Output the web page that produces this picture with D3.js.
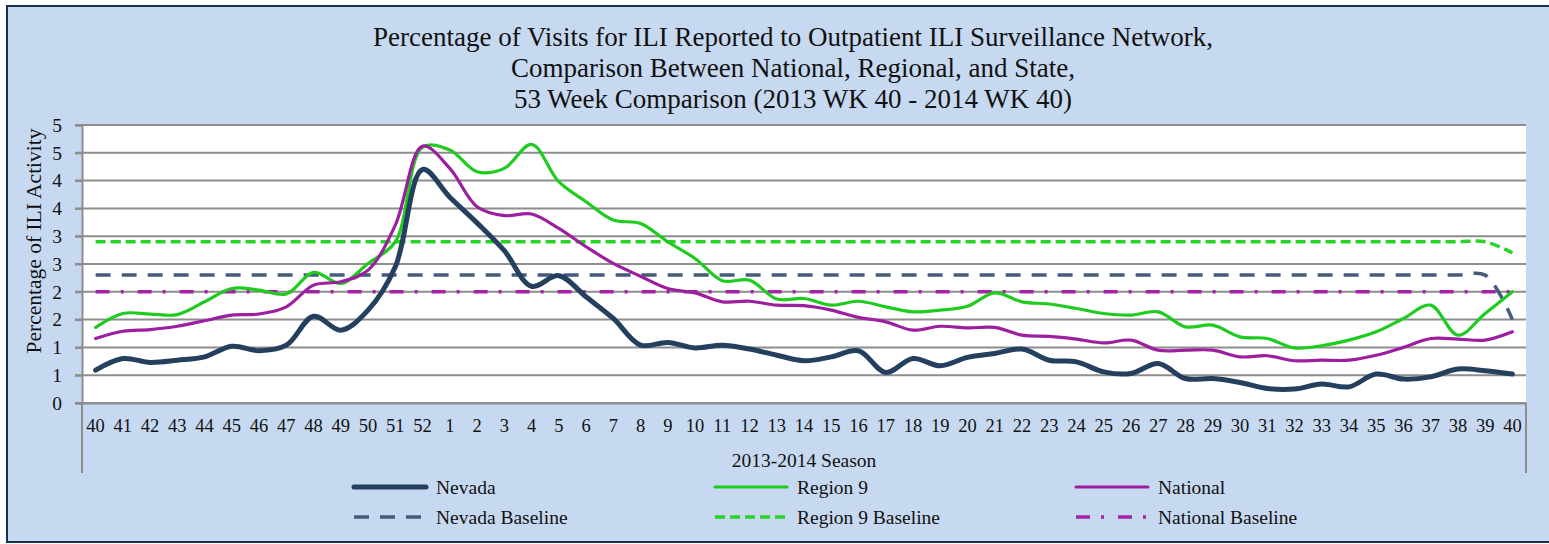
<!DOCTYPE html>
<html>
<head>
<meta charset="utf-8">
<script src="https://cdn.jsdelivr.net/npm/d3@7"></script>
<style>
  body { margin: 0; background: #ffffff; overflow: hidden; }
  svg { display: block; }
  svg text { font-family: "Liberation Serif", "Times New Roman", serif; fill: #111111; }
</style>
</head>
<body>
<svg id="chart" width="1549" height="544"></svg>
<script>
// week labels, 2013 wk 40 -> 2014 wk 40
const weeks = ["40","41","42","43","44","45","46","47","48","49","50","51","52",
  "1","2","3","4","5","6","7","8","9","10","11","12","13","14","15","16","17","18","19","20",
  "21","22","23","24","25","26","27","28","29","30","31","32","33","34","35","36","37","38","39","40"];

const nevada = [0.59,0.80,0.73,0.77,0.83,1.02,0.94,1.04,1.56,1.31,1.67,2.45,4.20,3.70,3.24,2.74,2.10,2.29,1.91,1.52,
  1.04,1.09,0.99,1.04,0.97,0.86,0.76,0.83,0.94,0.55,0.80,0.67,0.82,0.89,0.97,0.77,0.74,0.56,0.53,0.71,
  0.44,0.44,0.37,0.26,0.25,0.34,0.29,0.52,0.43,0.47,0.61,0.58,0.52];

const region9 = [1.36,1.61,1.60,1.59,1.82,2.06,2.03,1.96,2.35,2.15,2.51,2.90,4.60,4.55,4.16,4.22,4.65,3.98,3.62,3.29,
  3.23,2.90,2.60,2.20,2.21,1.87,1.88,1.76,1.83,1.73,1.64,1.67,1.74,1.98,1.82,1.78,1.70,1.61,1.58,1.64,
  1.37,1.40,1.19,1.16,0.99,1.03,1.13,1.28,1.52,1.76,1.22,1.61,2.00];

const national = [1.16,1.29,1.32,1.38,1.48,1.58,1.60,1.73,2.12,2.18,2.39,3.20,4.62,4.22,3.53,3.37,3.40,3.14,2.81,2.51,
  2.28,2.06,1.98,1.82,1.83,1.76,1.75,1.67,1.54,1.46,1.31,1.38,1.35,1.36,1.22,1.20,1.15,1.08,1.13,0.95,
  0.95,0.95,0.83,0.85,0.76,0.77,0.77,0.86,1.00,1.16,1.15,1.13,1.28];

const nevadaBaseline = [2.3,2.3,2.3,2.3,2.3,2.3,2.3,2.3,2.3,2.3,2.3,2.3,2.3,2.3,2.3,2.3,2.3,2.3,2.3,2.3,
  2.3,2.3,2.3,2.3,2.3,2.3,2.3,2.3,2.3,2.3,2.3,2.3,2.3,2.3,2.3,2.3,2.3,2.3,2.3,2.3,
  2.3,2.3,2.3,2.3,2.3,2.3,2.3,2.3,2.3,2.3,2.3,2.3,1.5];

const region9Baseline = [2.9,2.9,2.9,2.9,2.9,2.9,2.9,2.9,2.9,2.9,2.9,2.9,2.9,2.9,2.9,2.9,2.9,2.9,2.9,2.9,
  2.9,2.9,2.9,2.9,2.9,2.9,2.9,2.9,2.9,2.9,2.9,2.9,2.9,2.9,2.9,2.9,2.9,2.9,2.9,2.9,
  2.9,2.9,2.9,2.9,2.9,2.9,2.9,2.9,2.9,2.9,2.9,2.9,2.7];

const nationalBaseline = [2.0,2.0,2.0,2.0,2.0,2.0,2.0,2.0,2.0,2.0,2.0,2.0,2.0,2.0,2.0,2.0,2.0,2.0,2.0,2.0,
  2.0,2.0,2.0,2.0,2.0,2.0,2.0,2.0,2.0,2.0,2.0,2.0,2.0,2.0,2.0,2.0,2.0,2.0,2.0,2.0,
  2.0,2.0,2.0,2.0,2.0,2.0,2.0,2.0,2.0,2.0,2.0,2.0,2.0];

const yTicks = [0,0.5,1,1.5,2,2.5,3,3.5,4,4.5,5];
const yTickLabels = ["0","1","1","2","2","3","3","4","4","5","5"];

const titleLines = [
  "Percentage of Visits for ILI Reported to Outpatient ILI Surveillance Network,",
  "Comparison Between National, Regional, and State,",
  "53 Week Comparison (2013 WK 40 - 2014 WK 40)"
];

// series styling (drawn in this order)
const seriesList = [
  {name: "Nevada Baseline", values: nevadaBaseline, color: "#465b7c", width: 3.5, dash: "15,11"},
  {name: "Region 9 Baseline", values: region9Baseline, color: "#27d427", width: 3.5, dash: "10,5"},
  {name: "National Baseline", values: nationalBaseline, color: "#a523a5", width: 3.5, dash: "14,11,3,14"},
  {name: "Region 9", values: region9, color: "#1fcb1f", width: 3.2, dash: null},
  {name: "National", values: national, color: "#9c1f9f", width: 3.2, dash: null},
  {name: "Nevada", values: nevada, color: "#253f5f", width: 5, dash: null}
];

const legendOrder = ["Nevada", "Region 9", "National", "Nevada Baseline", "Region 9 Baseline", "National Baseline"];

const svg = d3.select("#chart");
const plot = {left: 82, right: 1526, top: 125, bottom: 403};

/* chart background, border only on left/top/bottom (right side is cut off) */
svg.append("rect")
  .attr("x", 7).attr("y", 6)
  .attr("width", 1542).attr("height", 536)
  .attr("fill", "#c6d9f0");

svg.append("path")
  .attr("d", "M1549,6 H7 V542 H1549")
  .attr("fill", "none")
  .attr("stroke", "#1c2f4d")
  .attr("stroke-width", 2);

/* plot area */
svg.append("rect")
  .attr("x", plot.left).attr("y", plot.top)
  .attr("width", plot.right - plot.left).attr("height", plot.bottom - plot.top)
  .attr("fill", "#ffffff");

let x = d3.scaleBand()
  .domain(d3.range(weeks.length))
  .range([plot.left, plot.right])
  .padding(0);

let y = d3.scaleLinear()
  .domain([0, 5])
  .range([plot.bottom, plot.top]);

const cx = i => x(i) + x.bandwidth() / 2;

/* horizontal gridlines */
svg.append("g")
  .selectAll("line")
  .data(yTicks)
  .enter().append("line")
  .attr("x1", plot.left - 7).attr("x2", plot.right)
  .attr("y1", d => y(d)).attr("y2", d => y(d))
  .attr("stroke", "#8d8d8d")
  .attr("stroke-width", 2);

/* y axis */
let yAxis = svg.append("g")
  .attr("transform", "translate(" + plot.left + ",0)")
  .call(d3.axisLeft(y).tickValues(yTicks).tickSize(7).tickPadding(13)
    .tickFormat((d, i) => yTickLabels[i]));
yAxis.select(".domain").attr("stroke", "#8d8d8d").attr("stroke-width", 2);
yAxis.selectAll(".tick line").attr("stroke", "#8d8d8d").attr("stroke-width", 2);
yAxis.selectAll("text").style("font-size", "19.5px").attr("fill", "#111");

/* x axis */
let xAxis = svg.append("g")
  .attr("transform", "translate(0," + plot.bottom + ")")
  .call(d3.axisBottom(x).tickSize(0).tickPadding(16).tickFormat(i => weeks[i]));
xAxis.select(".domain").attr("stroke", "#8d8d8d").attr("stroke-width", 2);
xAxis.selectAll("text").style("font-size", "18.5px").attr("fill", "#111");

/* category group brackets */
[plot.left, plot.right].forEach(function(px) {
  svg.append("line")
    .attr("x1", px).attr("x2", px)
    .attr("y1", plot.bottom).attr("y2", 473)
    .attr("stroke", "#8d8d8d").attr("stroke-width", 2);
});

/* title */
svg.append("text")
  .attr("text-anchor", "middle")
  .style("font-size", "27px")
  .selectAll("tspan")
  .data(titleLines)
  .enter().append("tspan")
  .attr("x", 793)
  .attr("y", (d, i) => 46 + i * 31)
  .text(d => d);

/* axis titles */
svg.append("text")
  .attr("transform", "translate(41,241) rotate(-90)")
  .attr("text-anchor", "middle")
  .style("font-size", "21.5px")
  .text("Percentage of ILI Activity");

svg.append("text")
  .attr("x", 804).attr("y", 467)
  .attr("text-anchor", "middle")
  .style("font-size", "19.5px")
  .text("2013-2014 Season");

/* smoothed lines */
let line = d3.line()
  .x((d, i) => cx(i))
  .y(d => y(d))
  .curve(d3.curveCatmullRom.alpha(0.5));

svg.append("g")
  .selectAll("path")
  .data(seriesList)
  .enter().append("path")
  .attr("d", d => line(d.values))
  .attr("fill", "none")
  .attr("stroke", d => d.color)
  .attr("stroke-width", d => d.width)
  .attr("stroke-dasharray", d => d.dash)
  .attr("stroke-linecap", d => d.dash ? "butt" : "round")
  .attr("stroke-linejoin", "round");

/* legend */
const legendCols = [354, 715, 1076],
  legendRows = [487, 517];

let legend = svg.append("g")
  .selectAll("g.legend-item")
  .data(legendOrder.map(n => seriesList.find(s => s.name === n)))
  .enter().append("g")
  .attr("class", "legend-item")
  .attr("transform", (d, i) => "translate(" + legendCols[i % 3] + "," + legendRows[Math.floor(i / 3)] + ")");

legend.append("line")
  .attr("x1", 0).attr("x2", 72)
  .attr("stroke", d => d.color)
  .attr("stroke-width", d => d.width)
  .attr("stroke-dasharray", d => d.dash)
  .attr("stroke-linecap", d => d.dash ? "butt" : "round");

legend.append("text")
  .attr("x", 82)
  .attr("dy", "0.35em")
  .style("font-size", "19.5px")
  .text(d => d.name);
</script>
</body>
</html>
